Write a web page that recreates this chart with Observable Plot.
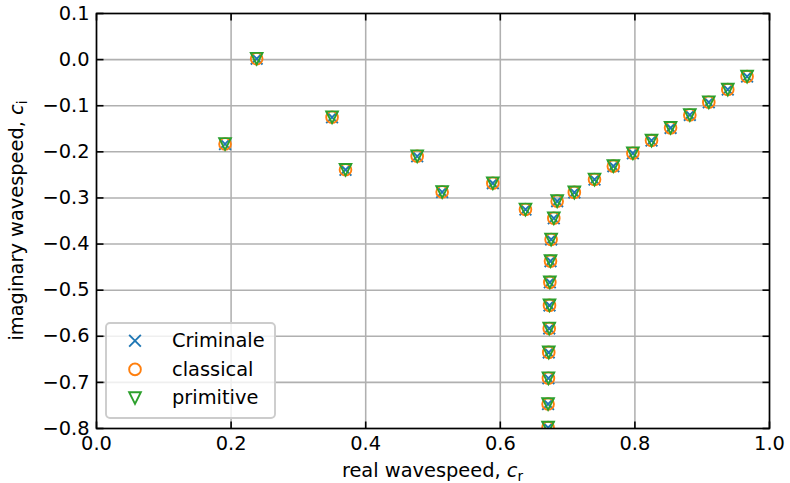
<!DOCTYPE html>
<html>
<head>
<meta charset="utf-8">
<script src="https://cdn.jsdelivr.net/npm/d3@7"></script>
<script src="https://cdn.jsdelivr.net/npm/@observablehq/plot@0.6"></script>
<style>
  html, body { margin: 0; padding: 0; background: #fff; }
</style>
</head>
<body>
<div id="chart"></div>
<script>
// ---- data ----
const seriesNames = ["Criminale", "classical", "primitive"];
const seriesColors = ["#1f77b4", "#ff7f0e", "#2ca02c"];

// real wavespeed c_r
const cr = [0.191, 0.238, 0.350, 0.370, 0.4765, 0.5136, 0.5889, 0.6374, 0.6845, 0.6795,
            0.6755, 0.6746, 0.6736, 0.6731, 0.6727, 0.6720, 0.6715, 0.6710, 0.6710,
            0.710, 0.740, 0.768, 0.797, 0.8247, 0.853, 0.8816, 0.9098, 0.938, 0.9667];
// imaginary wavespeed c_i
const ci = [-0.183, 0.002, -0.125, -0.239, -0.2095, -0.287, -0.268, -0.325, -0.307, -0.344,
            -0.390, -0.437, -0.483, -0.533, -0.583, -0.635, -0.691, -0.747, -0.798,
            -0.288, -0.260, -0.231, -0.203, -0.1755, -0.148, -0.120, -0.0924, -0.0649, -0.0367];

const criminaleCr = cr, criminaleCi = ci;
const classicalCr = cr, classicalCi = ci;
const primitiveCr = cr, primitiveCi = ci;

const xDomain = [0, 1];
const yDomain = [-0.8, 0.1];
const xTicks = [0, 0.2, 0.4, 0.6, 0.8, 1.0];
const yTicks = [-0.8, -0.7, -0.6, -0.5, -0.4, -0.3, -0.2, -0.1, 0.0, 0.1];

const xLabelText = "real wavespeed, ";
const xLabelSym = "c", xLabelSub = "r";
const yLabelText = "imaginary wavespeed, ";
const yLabelSym = "c", yLabelSub = "i";

// ---- build tables ----
const toRows = (xs, ys, s) => xs.map((x, i) => ({series: s, cr: x, ci: ys[i]}));
const rowsCriminale = toRows(criminaleCr, criminaleCi, seriesNames[0]);
const rowsClassical = toRows(classicalCr, classicalCi, seriesNames[1]);
const rowsPrimitive = toRows(primitiveCr, primitiveCi, seriesNames[2]);

// ---- symbols (matplotlib-like) ----
const MS = 5.85; // half marker size in px
const symX = {draw(ctx, size) { const r = Math.sqrt(size / Math.PI);
  ctx.moveTo(-r, -r); ctx.lineTo(r, r); ctx.moveTo(r, -r); ctx.lineTo(-r, r); }};
const symTriDown = {draw(ctx, size) { const r = Math.sqrt(size / Math.PI);
  ctx.moveTo(0, r); ctx.lineTo(-r, -r); ctx.lineTo(r, -r); ctx.closePath(); }};
const TL = 7;
const tickUp = {draw(ctx) { ctx.moveTo(0, 0); ctx.lineTo(0, -TL); }};
const tickDown = {draw(ctx) { ctx.moveTo(0, 0); ctx.lineTo(0, TL); }};
const tickRight = {draw(ctx) { ctx.moveTo(0, 0); ctx.lineTo(TL, 0); }};
const tickLeft = {draw(ctx) { ctx.moveTo(0, 0); ctx.lineTo(-TL, 0); }};

const markerStyle = (i) => ({x: "cr", y: "ci", r: MS, fill: "none", stroke: seriesColors[i],
  strokeWidth: 1.9, strokeLinejoin: "miter", clip: true});

const gridStyle = {stroke: "#b0b0b0", strokeOpacity: 1, strokeWidth: 1.55};
const tickStyle = {fill: "none", stroke: "black", strokeWidth: 1.6};

const W = 790, H = 483;
const M = {left: 96, right: 21, top: 13, bottom: 55};

const svg = Plot.plot({
  width: W, height: H,
  marginLeft: M.left, marginRight: M.right, marginTop: M.top, marginBottom: M.bottom,
  style: {fontFamily: "'DejaVu Sans', sans-serif", fontSize: "19.4px", background: "white", color: "black"},
  x: {domain: xDomain, label: null},
  y: {domain: yDomain, label: null},
  marks: [
    Plot.ruleX(xTicks, gridStyle),
    Plot.ruleY(yTicks, gridStyle),
    Plot.dot(rowsCriminale, {...markerStyle(0), symbol: symX}),
    Plot.dot(rowsClassical, {...markerStyle(1), symbol: "circle"}),
    Plot.dot(rowsPrimitive, {...markerStyle(2), symbol: symTriDown}),
    Plot.frame({stroke: "black", strokeWidth: 1.6}),
    Plot.dot(xTicks, {x: d => d, y: yDomain[0], symbol: tickUp, ...tickStyle}),
    Plot.dot(xTicks, {x: d => d, y: yDomain[1], symbol: tickDown, ...tickStyle}),
    Plot.dot(yTicks, {y: d => d, x: xDomain[0], symbol: tickRight, ...tickStyle}),
    Plot.dot(yTicks, {y: d => d, x: xDomain[1], symbol: tickLeft, ...tickStyle}),
    Plot.axisX(xTicks, {anchor: "bottom", tickSize: 0, tickPadding: 8, tickFormat: d3.format(".1f"), label: null}),
    Plot.axisY(yTicks, {anchor: "left", tickSize: 0, tickPadding: 7, tickFormat: d3.format(".1f"), label: null})
  ]
});

document.getElementById("chart").appendChild(svg);

// ---- axis labels with math-style subscripts ----
const s = d3.select(svg);
const plotCx = M.left + (W - M.left - M.right) / 2;
const plotCy = M.top + (H - M.top - M.bottom) / 2;

function addLabel(g, text, sym, sub) {
  const t = g.append("text").attr("text-anchor", "middle")
    .attr("font-family", "'DejaVu Sans', sans-serif").attr("font-size", "19.4px").attr("fill", "black");
  t.append("tspan").text(text);
  t.append("tspan").attr("font-style", "italic").text(sym);
  t.append("tspan").attr("font-size", "13.6px").attr("dy", "4").text(sub);
  return t;
}
addLabel(s.append("g").attr("transform", `translate(${plotCx},477)`), xLabelText, xLabelSym, xLabelSub);
addLabel(s.append("g").attr("transform", `translate(23,${plotCy}) rotate(-90)`), yLabelText, yLabelSym, yLabelSub);

// ---- legend ----
const lg = s.append("g").attr("class", "legend");
lg.append("rect").attr("x", 106).attr("y", 323).attr("width", 169).attr("height", 95)
  .attr("rx", 4).attr("ry", 4).attr("fill", "white").attr("fill-opacity", 0.8)
  .attr("stroke", "#cccccc").attr("stroke-width", 1.9);
const legendSyms = [symX, d3.symbolCircle, symTriDown];
const area = Math.PI * MS * MS;
seriesNames.forEach((name, i) => {
  const base = 347 + i * 28.7;
  const cy = base - 6.3;
  lg.append("path").attr("transform", `translate(135,${cy})`)
    .attr("d", d3.symbol(legendSyms[i], area)())
    .attr("fill", "none").attr("stroke", seriesColors[i]).attr("stroke-width", 1.9);
  lg.append("text").attr("x", 172).attr("y", base).attr("text-anchor", "start")
    .attr("font-family", "'DejaVu Sans', sans-serif").attr("font-size", "19.4px")
    .attr("fill", "black").text(name);
});
</script>
</body>
</html>
